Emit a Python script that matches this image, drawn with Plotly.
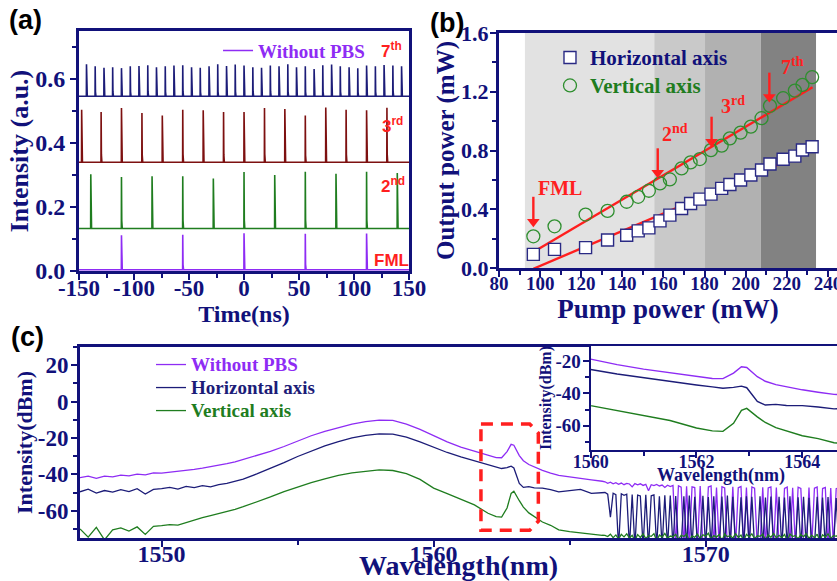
import plotly.graph_objects as go

# ---------------- data : panel (a) pulse trains ----------------
TIME_TICKS = [-150, -100, -50, 0, 50, 100, 150]
TIME_TICK_TEXT = ["-150", "-100", "-50", "0", "50", "100", "150"]
A_Y_TICKS = [0.0, 0.2, 0.4, 0.6]
A_Y_TICK_TEXT = ["0.0", "0.2", "0.4", "0.6"]

FML_T = [-111.4, -55.7, 0.0, 55.7, 111.4]
FML_H = [0.112, 0.113, 0.118, 0.116, 0.117]
FML_BASE = 0.004

H2_T = [-139.3, -111.4, -83.6, -55.7, -27.9, 0.0, 27.9, 55.7, 83.6, 111.4, 139.3]
H2_H = [0.302, 0.294, 0.296, 0.296, 0.289, 0.309, 0.300, 0.310, 0.304, 0.310, 0.306]
H2_BASE = 0.133

H3_T = [-147.6, -129.9, -111.4, -92.8, -74.3, -55.7, -37.1, -18.6, 0.0, 18.6, 37.1,
        55.7, 74.3, 92.8, 111.4, 129.9]
H3_H = [0.504, 0.497, 0.509, 0.494, 0.486, 0.504, 0.502, 0.497, 0.497, 0.509, 0.506,
        0.486, 0.511, 0.504, 0.502, 0.510]
H3_BASE = 0.340

H7_T = [-143.2, -135.3, -127.3, -119.4, -111.4, -103.4, -95.5, -87.5, -79.6, -71.6,
        -63.7, -55.7, -47.7, -39.8, -31.8, -23.9, -15.9, -8.0, 0.0, 8.0, 15.9, 23.9,
        31.8, 39.8, 47.7, 55.7, 63.7, 71.6, 79.6, 87.5, 95.5, 103.4, 111.4, 119.4,
        127.3, 135.3, 143.2]
H7_H = [0.646, 0.640, 0.635, 0.637, 0.634, 0.640, 0.641, 0.643, 0.637, 0.640,
        0.642, 0.643, 0.637, 0.635, 0.640, 0.646, 0.641, 0.645, 0.642, 0.637,
        0.635, 0.642, 0.640, 0.646, 0.637, 0.640, 0.631, 0.643, 0.645, 0.640,
        0.637, 0.634, 0.642, 0.640, 0.644, 0.642, 0.640]
H7_BASE = 0.546

# ---------------- data : panel (b) output power ----------------
PUMP = [96.7, 107.0, 122.1, 132.8, 142.1, 147.7, 152.9, 158.3, 163.1, 168.8, 173.2,
        177.7, 183.1, 188.3, 192.3, 197.5, 202.5, 207.7, 211.8, 218.2, 223.9, 227.6, 232.3]
OUT_H = [0.093, 0.127, 0.139, 0.191, 0.223, 0.253, 0.273, 0.321, 0.360, 0.405, 0.439,
         0.469, 0.503, 0.542, 0.569, 0.599, 0.633, 0.667, 0.708, 0.740, 0.762, 0.803, 0.826]
OUT_V = [0.216, 0.284, 0.364, 0.389, 0.451, 0.485, 0.526, 0.576, 0.603, 0.678, 0.719,
         0.742, 0.803, 0.833, 0.883, 0.922, 0.963, 1.020, 1.104, 1.156, 1.208, 1.247, 1.300]
FIT_X = [96.7, 232.5]
FIT_H = [-0.005, 0.803]
FIT_V = [0.109, 1.231]
BAND_EDGES = [92.6, 155.5, 180.2, 207.3, 234.2]
BAND_COLORS = ["#e2e2e2", "#c9c9c9", "#b1b1b1", "#828282"]
B_X_TICKS = [80, 100, 120, 140, 160, 180, 200, 220, 240]
B_X_TICK_TEXT = ["80", "100", "120", "140", "160", "180", "200", "220", "240"]
B_Y_TICKS = [0.0, 0.4, 0.8, 1.2, 1.6]
B_Y_TICK_TEXT = ["0.0", "0.4", "0.8", "1.2", "1.6"]
# harmonic markers: label, label x, label y, arrow x, arrow tail y, arrow tip y
B_MARKS = [
    ("FML", 109.7, 0.545, 96.7, 0.485, 0.315),
    ("2<sup>nd</sup>", 165.6, 0.921, 157.2, 0.815, 0.648),
    ("3<sup>rd</sup>", 194.0, 1.110, 183.4, 1.030, 0.859),
    ("7<sup>th</sup>", 222.7, 1.375, 211.5, 1.330, 1.164),
]

# ---------------- data : panel (c) optical spectra ----------------
WL = [1547.0, 1547.3, 1547.6, 1547.9, 1548.2, 1548.5, 1548.8, 1549.1, 1549.4, 1549.7,
      1550.0, 1550.3, 1550.6, 1550.9, 1551.2, 1551.5, 1551.8, 1552.1, 1552.4, 1552.7,
      1553.0, 1553.5, 1554.0, 1554.5, 1555.0, 1555.5, 1556.0, 1556.5, 1557.0, 1557.5,
      1558.0, 1558.5, 1559.0, 1559.5, 1560.0, 1560.5, 1561.0, 1561.5, 1562.0, 1562.3,
      1562.5, 1562.7, 1562.85, 1562.95, 1563.15, 1563.3, 1563.5, 1563.7, 1564.0, 1564.3,
      1564.6, 1565.0, 1565.4, 1565.8, 1566.2]
SPEC_P = [-41.8, -41.0, -42.2, -41.0, -41.4, -40.4, -40.9, -39.9, -40.3, -39.2,
          -39.3, -38.9, -38.4, -37.8, -37.3, -36.6, -35.9, -35.0, -34.1, -33.1,
          -31.8, -29.8, -27.4, -24.7, -21.6, -18.8, -16.4, -14.2, -12.4, -11.0,
          -10.2, -10.4, -12.4, -15.3, -18.8, -22.2, -25.0, -27.3, -29.8, -30.8,
          -30.9, -27.5, -23.5, -24.0, -29.7, -32.5, -34.6, -36.0, -37.8, -39.3,
          -40.6, -41.4, -42.4, -43.0, -43.8]
SPEC_H = [-49.6, -48.2, -50.3, -48.9, -49.8, -48.4, -49.5, -47.9, -50.8, -48.3,
          -47.8, -47.2, -48.1, -46.6, -47.3, -46.2, -46.9, -45.7, -45.0, -44.0,
          -42.6, -39.8, -36.8, -33.6, -30.2, -27.1, -24.4, -22.0, -20.0, -18.6,
          -17.8, -17.9, -19.6, -22.2, -25.2, -28.0, -30.4, -32.6, -34.8, -36.0,
          -36.8, -36.3, -35.5, -36.5, -45.0, -47.2, -46.8, -47.5, -47.6, -48.4,
          -49.6, -49.0, -48.3, -50.5, -49.8]
SPEC_V = [-70.0, -74.5, -69.2, -76.0, -70.5, -69.4, -71.2, -68.9, -73.0, -68.6,
          -68.2, -67.6, -67.9, -66.5, -65.0, -63.8, -62.7, -61.6, -60.4, -59.2,
          -57.8, -55.2, -52.4, -49.5, -46.9, -44.6, -42.5, -40.6, -39.2, -38.2,
          -37.6, -37.9, -39.6, -42.8, -47.6, -50.6, -53.6, -56.8, -61.4, -63.2,
          -63.5, -58.5, -50.5, -49.3, -54.5, -58.0, -61.2, -63.2, -66.2, -68.0,
          -70.5, -71.5, -72.3, -72.8, -73.5]
NOISE_WL = [1566.3, 1566.4, 1566.5, 1566.6, 1566.7, 1566.8, 1566.9, 1567.0, 1567.1, 1567.2,
            1567.3, 1567.4, 1567.5, 1567.6, 1567.7, 1567.8, 1567.9, 1568.0, 1568.1, 1568.2,
            1568.3, 1568.4, 1568.5, 1568.6, 1568.7, 1568.8, 1568.9, 1569.0, 1569.1, 1569.2,
            1569.3, 1569.4, 1569.5, 1569.6, 1569.7, 1569.8, 1569.9, 1570.0, 1570.1, 1570.2,
            1570.3, 1570.4, 1570.5, 1570.6, 1570.7, 1570.8, 1570.9, 1571.0, 1571.1, 1571.2,
            1571.3, 1571.4, 1571.5, 1571.6, 1571.7, 1571.8, 1571.9, 1572.0, 1572.1, 1572.2,
            1572.3, 1572.4, 1572.5, 1572.6, 1572.7, 1572.8, 1572.9, 1573.0, 1573.1, 1573.2,
            1573.3, 1573.4, 1573.5, 1573.6, 1573.7, 1573.8, 1573.9, 1574.0, 1574.1, 1574.2,
            1574.3, 1574.4, 1574.5, 1574.6, 1574.7, 1574.8, 1574.9, 1575.0]
NOISE_P = [-44.1, -44.9, -44.3, -45.2, -44.6, -45.5, -44.8, -45.7, -45.0, -45.3,
           -46.9, -45.1, -45.8, -45.2, -46.1, -45.5, -49.0, -45.7, -46.2, -45.6,
           -46.4, -45.9, -47.2, -46.0, -46.7, -46.1, -80.0, -46.3, -47.0, -80.0,
           -46.6, -80.0, -46.9, -47.3, -80.0, -46.5, -80.0, -80.0, -47.0, -46.4,
           -80.0, -47.2, -80.0, -46.8, -47.5, -80.0, -80.0, -46.9, -80.0, -47.4,
           -46.7, -80.0, -47.3, -80.0, -46.9, -47.6, -80.0, -80.0, -47.1, -80.0,
           -47.5, -46.9, -80.0, -47.2, -80.0, -80.0, -47.7, -47.0, -80.0, -47.4,
           -80.0, -47.1, -47.8, -80.0, -80.0, -47.3, -80.0, -47.6, -47.0, -80.0,
           -47.8, -47.2, -80.0, -47.5, -80.0, -47.9, -47.3, -80.0]
NOISE_H = [-50.0, -50.9, -63.5, -50.4, -51.2, -80.0, -50.7, -51.5, -50.9, -80.0,
           -51.1, -80.0, -51.4, -51.9, -80.0, -51.2, -80.0, -51.8, -51.3, -80.0,
           -52.0, -80.0, -51.5, -80.0, -51.7, -80.0, -51.9, -80.0, -80.0, -52.1,
           -80.0, -51.6, -80.0, -52.3, -80.0, -80.0, -51.8, -80.0, -52.5, -80.0,
           -52.0, -80.0, -80.0, -52.2, -80.0, -51.7, -80.0, -52.4, -80.0, -80.0,
           -52.6, -80.0, -52.1, -80.0, -52.3, -80.0, -80.0, -52.0, -80.0, -52.7,
           -80.0, -52.2, -80.0, -80.0, -52.4, -80.0, -52.8, -80.0, -52.1, -80.0,
           -80.0, -52.6, -80.0, -52.3, -80.0, -52.9, -80.0, -80.0, -52.4, -80.0,
           -52.7, -80.0, -52.5, -80.0, -80.0, -53.0, -80.0, -52.6]
NOISE_V = [-73.6, -74.2, -72.9, -74.8, -73.3, -75.6, -73.0, -74.4, -72.7, -75.0,
           -73.5, -76.5, -73.1, -74.7, -72.8, -75.3, -73.7, -74.1, -72.6, -76.5,
           -73.4, -74.5, -72.5, -75.1, -73.9, -74.3, -73.0, -75.9, -73.5, -74.2,
           -72.8, -76.5, -73.8, -74.6, -72.9, -75.4, -73.2, -74.0, -72.4, -75.7,
           -73.7, -74.5, -73.1, -76.5, -72.8, -74.3, -73.6, -75.1, -72.6, -74.7,
           -73.4, -76.5, -73.0, -74.4, -72.7, -75.4, -73.8, -74.1, -72.9, -75.9,
           -73.3, -74.6, -72.5, -75.0, -73.5, -74.8, -73.0, -76.5, -72.8, -74.2,
           -73.6, -75.5, -73.1, -74.3, -72.6, -75.2, -73.4, -74.9, -72.9, -76.5,
           -73.2, -74.5, -72.7, -75.3, -73.6, -74.1, -72.8, -75.0]
C_X_TICKS = [1550, 1560, 1570]
C_X_TICK_TEXT = ["1550", "1560", "1570"]
C_Y_TICKS = [20, 0, -20, -40, -60]
C_Y_TICK_TEXT = ["20", "0", "-20", "-40", "-60"]
INSET_X_TICKS = [1560, 1562, 1564]
INSET_X_TICK_TEXT = ["1560", "1562", "1564"]
INSET_Y_TICKS = [-20, -40, -60]
INSET_Y_TICK_TEXT = ["-20", "-40", "-60"]
ZOOM_BOX = dict(x0=1561.74, x1=1563.85, y0=-70.8, y1=-12.3, dx=0.32, dy=5.0)

# ---------------- styles ----------------
SERIF = "Liberation Serif"
SANS = "Liberation Sans"
NAVY = "#11117a"
PURPLE = "#8e2cf4"
DNAVY = "#1c1c78"
BROWN = "#7d1010"
GREEN = "#1f7d1f"
RED = "#ff1f1f"


def bold(size, color=NAVY, family=SERIF):
    return dict(family=family, size=size, color=color, weight="bold")


def pulse_train(times, heights, base):
    xs, ys = [-150.0], [base]
    for t, h in zip(times, heights):
        xs += [t - 0.12, t, t + 0.25, t + 0.7]
        ys += [base, h, base + 0.15 * (h - base), base]
    xs.append(150.0)
    ys.append(base)
    return xs, ys


fig = go.Figure()

# ---- panel (a)
for name, T, H, B, col, show in [
    ("7th harmonic", H7_T, H7_H, H7_BASE, DNAVY, False),
    ("3rd harmonic", H3_T, H3_H, H3_BASE, BROWN, False),
    ("2nd harmonic", H2_T, H2_H, H2_BASE, GREEN, False),
    ('<span style="color:%s">Without PBS</span>' % PURPLE, FML_T, FML_H, FML_BASE, PURPLE, True),
]:
    xs, ys = pulse_train(T, H, B)
    fig.add_trace(go.Scatter(x=xs, y=ys, mode="lines", name=name, showlegend=show,
                             legend="legend", line=dict(color=col, width=1.6),
                             xaxis="x", yaxis="y"))

# ---- panel (b)
fig.add_trace(go.Scatter(x=FIT_X, y=FIT_V, mode="lines", showlegend=False,
                         line=dict(color=RED, width=2.4), xaxis="x2", yaxis="y2"))
fig.add_trace(go.Scatter(x=FIT_X, y=FIT_H, mode="lines", showlegend=False,
                         line=dict(color=RED, width=2.4), xaxis="x2", yaxis="y2"))
fig.add_trace(go.Scatter(
    x=PUMP, y=OUT_H, mode="markers", legend="legend2",
    name='<span style="color:%s;font-size:21px">Horizontal axis</span>' % NAVY,
    marker=dict(symbol="square", size=12, color="white",
                line=dict(color="#2a2a84", width=1.4)),
    xaxis="x2", yaxis="y2"))
fig.add_trace(go.Scatter(
    x=PUMP, y=OUT_V, mode="markers", legend="legend2",
    name='<span style="color:%s;font-size:21px">Vertical axis</span>' % GREEN,
    marker=dict(symbol="circle-open", size=13, color="#2f8f2f",
                line=dict(color="#2f8f2f", width=1.3)),
    xaxis="x2", yaxis="y2"))
# red arrows marking the harmonic thresholds
for txt, lx, ly, ax_, tail, tip in B_MARKS:
    fig.add_trace(go.Scatter(x=[ax_, ax_], y=[tail, tip], mode="lines", showlegend=False,
                             line=dict(color=RED, width=2.4), xaxis="x2", yaxis="y2"))
    fig.add_trace(go.Scatter(x=[ax_], y=[tip], mode="markers", showlegend=False,
                             marker=dict(symbol="triangle-down", size=11, color=RED),
                             xaxis="x2", yaxis="y2"))

# ---- panel (c) + inset
spectra = [
    ("Without PBS", SPEC_P, NOISE_P, PURPLE),
    ("Horizontal axis", SPEC_H, NOISE_H, DNAVY),
    ("Vertical axis", SPEC_V, NOISE_V, GREEN),
]
for name, smooth, noise, col in spectra:
    fig.add_trace(go.Scatter(
        x=WL + NOISE_WL, y=smooth + noise, mode="lines", legend="legend3",
        name='<span style="color:%s;font-size:19px">%s</span>' % (col, name),
        line=dict(color=col, width=1.3), xaxis="x3", yaxis="y3"))
for name, smooth, noise, col in spectra:
    fig.add_trace(go.Scatter(
        x=WL + NOISE_WL, y=smooth + noise, mode="lines", showlegend=False,
        line=dict(color=col, width=1.4), xaxis="x4", yaxis="y4"))


def axis(domain, rng, tv, tt, minor_dtick, minor_tick0, size, anchor,
         mirror=True, lw=3, title=None, tsize=20, standoff=0, lstand=0):
    d = dict(domain=domain, range=rng, anchor=anchor, tickmode="array", automargin=False,
             tickvals=tv, ticktext=tt, ticks="outside", ticklen=6, tickwidth=2,
             tickcolor=NAVY, showline=True, linewidth=lw, linecolor=NAVY,
             mirror=mirror, showgrid=False, zeroline=False, tickfont=bold(size),
             ticklabeloverflow="allow", ticklabelstandoff=lstand,
             minor=dict(tickmode="linear", dtick=minor_dtick, tick0=minor_tick0,
                        ticks="outside", ticklen=4, tickwidth=2, tickcolor=NAVY,
                        showgrid=False))
    if title:
        d["title"] = dict(text=title, font=bold(tsize), standoff=standoff)
    return d


layout = dict(
    width=837, height=581, margin=dict(l=0, r=0, t=0, b=0),
    paper_bgcolor="white", plot_bgcolor="white", showlegend=True,
    xaxis=axis([0.0944, 0.4887], [-150, 150], TIME_TICKS, TIME_TICK_TEXT, 25, 0, 23, "y",
               title="Time(ns)", tsize=24, standoff=0, lstand=-12),
    yaxis=axis([0.5336, 0.9466], [0, 0.75], A_Y_TICKS, A_Y_TICK_TEXT, 0.1, 0, 24, "x",
               title="Intensity (a.u.)", tsize=26, standoff=0),
    xaxis2=axis([0.5962, 1.0], [80, 244.4], B_X_TICKS, B_X_TICK_TEXT, 10, 80, 19, "y2",
                title="Pump power (mW)", tsize=27, standoff=0, lstand=-10),
    yaxis2=axis([0.5387, 0.9432], [0, 1.6], B_Y_TICKS, B_Y_TICK_TEXT, 0.2, 0, 22, "x2",
                mirror=False, title="Output power (mW)", tsize=25, standoff=0, lstand=-3),
    xaxis3=axis([0.0956, 1.0], [1547, 1574.83], C_X_TICKS, C_X_TICK_TEXT, 5, 1545, 24, "y3",
                title="Wavelength(nm)", tsize=28, standoff=14, lstand=-14),
    yaxis3=axis([0.0740, 0.4028], [-75, 30], C_Y_TICKS, C_Y_TICK_TEXT, 10, 0, 23, "x3",
                mirror=False, title="Intensity(dBm)", tsize=22, standoff=0, lstand=-2),
    xaxis4=axis([0.7057, 1.0], [1560, 1564.656], INSET_X_TICKS, INSET_X_TICK_TEXT, 1, 1560,
                18, "y4", mirror=False, lw=2, lstand=-12),
    yaxis4=axis([0.2255, 0.4045], [-75, -10.7], INSET_Y_TICKS, INSET_Y_TICK_TEXT, 10, 0,
                19, "x4", mirror=False, lw=2, title="Intensity(dBm)", tsize=16, standoff=0,
                lstand=-2),
    legend=dict(x=0.2605, y=0.9455, xanchor="left", yanchor="top", bgcolor="rgba(0,0,0,0)",
                font=bold(19)),
    legend2=dict(x=0.6571, y=0.9337, xanchor="left", yanchor="top",
                 bgcolor="rgba(0,0,0,0)", font=bold(19.2)),
    legend3=dict(x=0.1804, y=0.401, xanchor="left", yanchor="top",
                 bgcolor="rgba(0,0,0,0)", font=bold(15.4)),
)
fig.update_layout(**layout)

# shading bands in (b)
shapes = []
for x0, x1, c in zip(BAND_EDGES[:-1], BAND_EDGES[1:], BAND_COLORS):
    shapes.append(dict(type="rect", xref="x2", yref="y2 domain", x0=x0, x1=x1, y0=0, y1=1,
                       fillcolor=c, line=dict(width=0), layer="below"))
# dashed zoom box in (c)
b = ZOOM_BOX
path = ("M %f,%f L %f,%f L %f,%f L %f,%f L %f,%f L %f,%f Z" % (
    b["x0"], b["y1"], b["x1"] - b["dx"], b["y1"], b["x1"], b["y1"] - b["dy"],
    b["x1"], b["y0"] + b["dy"], b["x1"] - b["dx"], b["y0"], b["x0"], b["y0"]))
shapes.append(dict(type="path", xref="x3", yref="y3", path=path,
                   line=dict(color=RED, width=3.5, dash="12px,8px")))
fig.update_layout(shapes=shapes)

ann = []
for txt, x, y in [("(a)", 0.030, 0.9656), ("(b)", 0.534, 0.960), ("(c)", 0.0323, 0.420)]:
    ann.append(dict(text=txt, x=x, y=y, xref="paper", yref="paper", showarrow=False,
                    xanchor="center", yanchor="middle",
                    font=dict(family=SANS, size=27, color="black", weight="bold")))
# inset x-axis title (sits between the inset tick labels, as in the original)
ann.append(dict(text="Wavelength(nm)", x=0.862, y=1 - 475 / 581, xref="paper", yref="paper",
                showarrow=False, xanchor="center", yanchor="middle", font=bold(18)))
for txt, x, y in [("7<sup>th</sup>", 134.5, 0.691), ("3<sup>rd</sup>", 135.2, 0.456),
                  ("2<sup>nd</sup>", 135.2, 0.269), ("FML", 134.3, 0.034)]:
    ann.append(dict(text=txt, x=x, y=y, xref="x", yref="y", showarrow=False,
                    xanchor="center", yanchor="middle",
                    font=dict(family=SANS, size=17, color=RED, weight="bold")))
for txt, lx, ly, ax_, tail, tip in B_MARKS:
    ann.append(dict(text=txt, x=lx, y=ly, xref="x2", yref="y2", showarrow=False,
                    xanchor="center", yanchor="middle",
                    font=dict(family=SERIF, size=20, color=RED, weight="bold")))
fig.update_layout(annotations=ann)

fig.write_html("out.html")
